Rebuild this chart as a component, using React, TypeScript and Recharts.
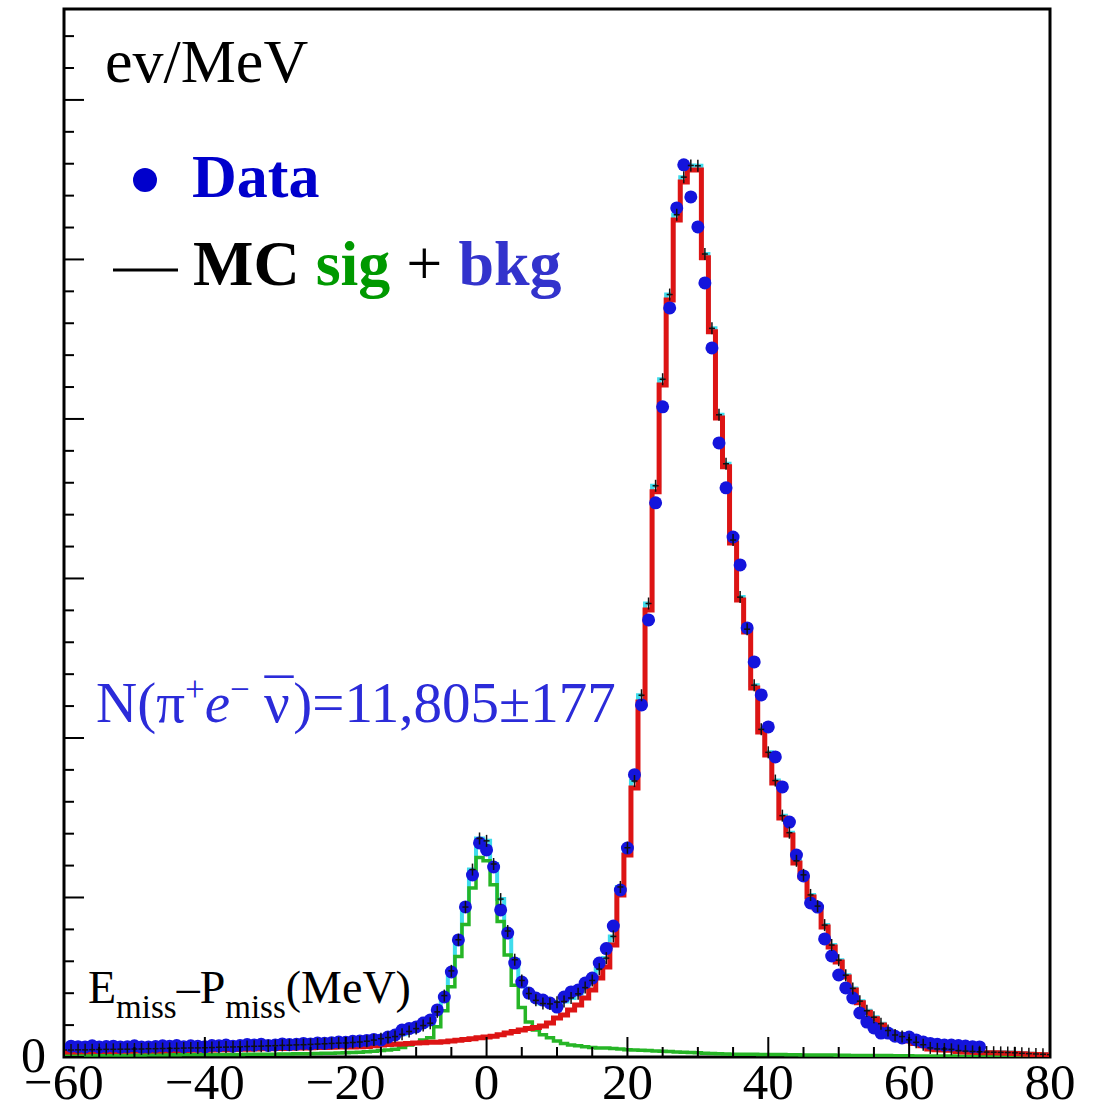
import React from "react";
import { ComposedChart, Line, Scatter, XAxis, YAxis, ReferenceArea } from "recharts";

// 1 MeV bins, centres from -60 to 80
const BIN_LO = -60;
const BIN_HI = 80;
const bins = Array.from({ length: BIN_HI - BIN_LO + 1 }, (_, i) => BIN_LO + i);

// MC background (red), ev/MeV, 10 bins per row starting at -60
const bkg = [
  32, 32, 33, 33, 34, 34, 35, 35, 36, 36,
  37, 37, 38, 38, 39, 40, 40, 41, 42, 42,
  43, 44, 45, 46, 47, 48, 49, 50, 51, 52,
  53, 54, 55, 56, 57, 58, 59, 60, 61, 62,
  62, 63, 64, 66, 70, 75, 78, 80, 82, 85,
  88, 90, 92, 93, 95, 100, 105, 110, 115, 120,
  125, 130, 140, 150, 160, 170, 178, 185, 195, 213,
  244, 263, 295, 326, 370, 420, 495, 564, 702, 1016,
  1266, 1686, 2226, 2803, 3543, 4213, 4746, 5248, 5486, 5561,
  5561, 5010, 4546, 4006, 3700, 3223, 2865, 2665, 2314, 2038,
  1894, 1718, 1498, 1392, 1216, 1129, 1003, 934, 815, 690,
  596, 502, 420, 340, 280, 240, 200, 157, 130, 120,
  100, 85, 70, 50, 45, 44, 42, 35, 32, 30,
  28, 27, 26, 25, 24, 22, 20, 18, 16, 14,
  12,
];

// MC signal (green)
const sig = [
  12, 12, 12, 12, 12, 13, 13, 13, 13, 13,
  13, 13, 14, 14, 14, 14, 14, 15, 15, 15,
  15, 15, 16, 16, 16, 16, 17, 17, 17, 18,
  18, 19, 19, 20, 20, 21, 22, 23, 24, 25,
  26, 28, 30, 33, 36, 40, 44, 48, 60, 75,
  90, 107, 120, 190, 290, 440, 630, 830, 1060, 1250,
  1230, 1080, 850, 640, 450, 310, 220, 170, 140, 120,
  100, 85, 75, 70, 65, 60, 56, 56, 54, 50,
  46, 44, 42, 40, 38, 36, 34, 32, 30, 28,
  26, 24, 22, 20, 19, 18, 18, 17, 17, 16,
  16, 15, 15, 14, 14, 13, 13, 12, 12, 12,
  11, 11, 10, 10, 10, 9, 9, 9, 8, 8,
  8, 7, 7, 7, 6, 6, 6, 5, 5, 5,
  5, 4, 4, 4, 4, 4, 3, 3, 3, 3,
  3,
];

// Data (blue points)
const obs = [
  null, 68, 65, 63, 70, 62, 66, 68, 62, 65,
  70, 62, 63, 66, 70, 68, 72, 65, 70, 68,
  64, 72, 70, 75, 68, 72, 78, 75, 80, 72,
  76, 82, 78, 80, 85, 82, 88, 86, 90, 94,
  92, 98, 100, 104, 110, 107, 125, 138, 169, 178,
  188, 213, 232, 295, 376, 533, 734, 941, 1141, 1342,
  1298, 1191, 922, 777, 589, 470, 401, 370, 357, 338,
  313, 376, 408, 420, 464, 495, 589, 680, 821, 1047,
  1310, 1770, 2207, 2740, 3474, 4076, 4696, 5323, 5593, 5392,
  5204, 4853, 4445, 3850, 3568, 3260, 3085, 2690, 2477, 2270,
  2069, 1881, 1693, 1473, 1266, 1135, 966, 940, 740, 633,
  514, 433, 370, 276, 219, 182, 150, 150, 130, 119,
  125, 107, 94, 85, 80, 75, 75, 72, 69, 65,
  63, null, null, null, null, null, null, null, null, null,
  null,
];

const xTicks = Array.from({ length: 29 }, (_, i) => -60 + 5 * i);
const yTicks = Array.from({ length: 33 }, (_, i) => 200 * i);
const Y_TOP = 6570;

const histRows = bins.map((c, i) => ({
  x: Math.max(c - 0.5, BIN_LO),
  bkg: bkg[i],
  sig: sig[i],
  tot: bkg[i] + sig[i],
}));
histRows.push({ ...histRows[histRows.length - 1], x: BIN_HI });

const dataPts = bins
  .map((c, i) => ({ x: c, y: obs[i] }))
  .filter((d) => d.y != null);
const mcPts = bins.map((c, i) => ({ x: c, y: bkg[i] + sig[i] }));

const FONT = "'Liberation Serif', 'Times New Roman', serif";

const XTick = (props: any) => {
  const { x, y, payload } = props;
  const v = payload.value;
  const major = v % 20 === 0;
  return (
    <g>
      <line x1={x} x2={x} y1={y} y2={y - (major ? 20 : 10)} stroke="#000" strokeWidth={2} />
      {major && (
        <text x={x} y={y + 42} textAnchor="middle" fontSize={51} fontFamily={FONT} fill="#000">
          {v < 0 ? `\u2212${-v}` : v}
        </text>
      )}
    </g>
  );
};

const YTick = (props: any) => {
  const { x, y, payload } = props;
  const v = payload.value;
  const major = v % 1000 === 0;
  return (
    <g>
      <line x1={x} x2={x + (major ? 20 : 10)} y1={y} y2={y} stroke="#000" strokeWidth={2} />
      {v === 0 && (
        <text x={x - 18} y={y + 15} textAnchor="end" fontSize={50} fontFamily={FONT} fill="#000">
          0
        </text>
      )}
    </g>
  );
};

const Dot = (props: any) => <circle cx={props.cx} cy={props.cy} r={6.5} fill="#1414dc" />;

const Cross = (props: any) => (
  <g stroke="#111" strokeWidth={1.5}>
    <line x1={props.cx} x2={props.cx} y1={props.cy - 6} y2={props.cy + 6} />
    <line x1={props.cx - 3} x2={props.cx + 3} y1={props.cy} y2={props.cy} />
  </g>
);

export default function App() {
  return (
    <div style={{ position: "absolute", left: 0, top: 0, width: 1102, height: 1109, background: "#fff" }}>
      <ComposedChart width={1102} height={1109} margin={{ top: 9, right: 52, bottom: 0, left: 0 }}>
        <XAxis
          type="number"
          dataKey="x"
          domain={[BIN_LO, BIN_HI]}
          ticks={xTicks}
          interval={0}
          allowDataOverflow
          height={52}
          axisLine={false}
          tickLine={false}
          tickSize={0}
          tickMargin={0}
          tick={(p: any) => <XTick {...p} />}
        />
        <YAxis
          type="number"
          domain={[0, Y_TOP]}
          ticks={yTicks}
          interval={0}
          allowDataOverflow
          width={64}
          axisLine={false}
          tickLine={false}
          tickSize={0}
          tickMargin={0}
          tick={(p: any) => <YTick {...p} />}
        />
        <Scatter data={dataPts} dataKey="y" shape={Dot} isAnimationActive={false} />
        <Line data={histRows} dataKey="tot" type="stepAfter" stroke="#3fdcec" strokeWidth={4} dot={false} activeDot={false} isAnimationActive={false} />
        <Line data={histRows} dataKey="sig" type="stepAfter" stroke="#26b526" strokeWidth={3.5} dot={false} activeDot={false} isAnimationActive={false} />
        <Line data={histRows} dataKey="bkg" type="stepAfter" stroke="#dd1414" strokeWidth={5} dot={false} activeDot={false} isAnimationActive={false} />
        <Scatter data={mcPts} dataKey="y" shape={Cross} isAnimationActive={false} />
        <ReferenceArea x1={BIN_LO} x2={BIN_HI} y1={0} y2={Y_TOP} fill="none" fillOpacity={0} stroke="#000" strokeWidth={3} />
      </ComposedChart>
      <svg width={1102} height={1109} style={{ position: "absolute", left: 0, top: 0, pointerEvents: "none" }} fontFamily={FONT}>
        <text x={105} y={82} fontSize={62} fill="#000">ev/MeV</text>
        <circle cx={145} cy={180} r={12} fill="#0000cc" />
        <text x={192} y={197} fontSize={62} fontWeight="bold" fill="#0000cc">Data</text>
        <line x1={113} x2={178} y1={270} y2={270} stroke="#000" strokeWidth={3} />
        <text x={193} y={285} fontSize={64} fontWeight="bold" fill="#000">
          MC <tspan fill="#009900">sig</tspan>
          <tspan fontWeight="normal"> + </tspan>
          <tspan fill="#3333cc">bkg</tspan>
        </text>
        <text x={96} y={722} fontSize={57} fill="#2b2bd9">
          N(π<tspan dy={-21} fontSize={35}>+</tspan>
          <tspan dy={21} fontStyle="italic">e</tspan>
          <tspan dy={-21} fontSize={35}>−</tspan>
          <tspan dy={21}> ν</tspan>
          <tspan dx={-25} dy={-3}>¯</tspan>
          <tspan dx={0} dy={3}>)=11,805±177</tspan>
        </text>
        <text x={88} y={1003} fontSize={46} fill="#000">
          E<tspan dy={15} fontSize={33}>miss</tspan>
          <tspan dy={-15}>–P</tspan>
          <tspan dy={15} fontSize={33}>miss</tspan>
          <tspan dy={-15}>(MeV)</tspan>
        </text>
      </svg>
    </div>
  );
}
